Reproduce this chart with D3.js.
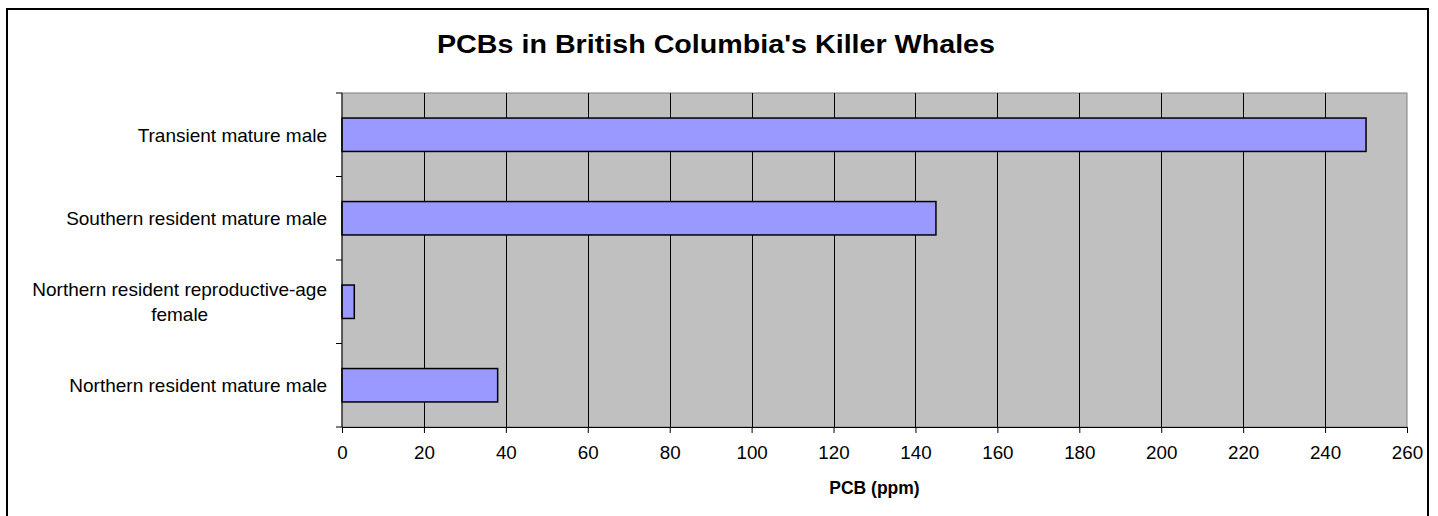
<!DOCTYPE html>
<html>
<head>
<meta charset="utf-8">
<script src="https://cdn.jsdelivr.net/npm/d3@7"></script>
<style>
body { margin:0; background:#fff; }
text { font-family: Arial, "Liberation Sans", sans-serif; fill:#000; }
</style>
</head>
<body>
<svg id="graph1"></svg>
<script>
// whale groups, top to bottom as shown
var categories = ["Transient mature male",
                  "Southern resident mature male",
                  "Northern resident reproductive-age female",
                  "Northern resident mature male"]
var pcbValues = [250, 145, 3, 38]
var xTicks = [0,20,40,60,80,100,120,140,160,180,200,220,240,260]

var data = categories.map(function(c,i){ return {group:c, pcb:pcbValues[i]} })

var initGraph = function(data)
{
    var screen = {width:1438, height:516}
    var margins = {left:342, right:31, top:93, bottom:89}
    var graph =
        {
            width:screen.width-margins.left-margins.right,
            height:screen.height-margins.top-margins.bottom
        }

    var svg = d3.select("#graph1")
        .attr("width", screen.width)
        .attr("height", screen.height)

    // chart frame
    svg.append("rect")
        .attr("x",7).attr("y",9)
        .attr("width",1421).attr("height",520)
        .attr("fill","white")
        .attr("stroke","black")
        .attr("stroke-width",2)

    var target = svg.append("g")
        .attr("transform","translate("+margins.left+","+margins.top+")")

    var xScale = d3.scaleLinear()
        .domain([0,260])
        .range([0,graph.width])

    var yScale = d3.scaleBand()
        .domain(categories)
        .range([0,graph.height])
        .paddingInner(0.6)
        .paddingOuter(0.3)

    // plot area
    target.append("rect")
        .attr("width",graph.width)
        .attr("height",graph.height)
        .attr("fill","#c0c0c0")
        .attr("stroke","#808080")
        .attr("stroke-width",1)

    // gridlines
    target.append("g")
        .selectAll("line")
        .data(xTicks.slice(1,-1))
        .enter()
        .append("line")
        .attr("x1",function(d){ return Math.round(xScale(d))+0.5 })
        .attr("x2",function(d){ return Math.round(xScale(d))+0.5 })
        .attr("y1",0)
        .attr("y2",graph.height)
        .attr("stroke","black")

    drawBars(data,target,xScale,yScale)
    drawAxis(graph,target,xScale,yScale)
    drawLabels(graph,margins,svg,yScale)
}

var drawBars = function(data,target,xScale,yScale)
{
    target.selectAll(".bar")
        .data(data)
        .enter()
        .append("rect")
        .attr("class","bar")
        .attr("x",0)
        .attr("y",function(d){ return yScale(d.group) })
        .attr("width",function(d){ return xScale(d.pcb) })
        .attr("height",yScale.bandwidth())
        .attr("fill","#9999ff")
        .attr("stroke","black")
        .attr("stroke-width",1.5)
}

var drawAxis = function(graph,target,xScale,yScale)
{
    var xAxis = d3.axisBottom(xScale)
        .tickValues(xTicks)
        .tickSize(6)
        .tickPadding(13)

    var gx = target.append("g")
        .attr("transform","translate(0,"+graph.height+")")
        .call(xAxis)
    gx.select(".domain").attr("stroke","black")
    gx.selectAll("text").attr("font-size","18.8px").attr("font-family","Arial, 'Liberation Sans', sans-serif")

    // y ticks sit on the band edges
    var step = graph.height/categories.length
    var edges = d3.range(categories.length+1).map(function(i){ return i*step })
    target.append("g")
        .selectAll("line")
        .data(edges)
        .enter()
        .append("line")
        .attr("x1",-6).attr("x2",0)
        .attr("y1",function(d){ return d })
        .attr("y2",function(d){ return d })
        .attr("stroke","black")
    target.append("line")
        .attr("x1",0).attr("x2",0)
        .attr("y1",0).attr("y2",graph.height)
        .attr("stroke","black")
}

var drawLabels = function(graph,margins,svg,yScale)
{
    var labels = svg.append("g").classed("labels",true)

    labels.append("text")
        .text("PCBs in British Columbia's Killer Whales")
        .attr("text-anchor","middle")
        .attr("font-weight","bold")
        .attr("font-size","25px")
        .attr("textLength",558)
        .attr("lengthAdjust","spacingAndGlyphs")
        .attr("x",716)
        .attr("y",53)

    labels.append("text")
        .text("PCB (ppm)")
        .attr("text-anchor","middle")
        .attr("font-weight","bold")
        .attr("font-size","17.5px")
        .attr("x",margins.left+graph.width/2)
        .attr("y",494)

    // category names, wrapped ones centred as a block
    var rightEdge = 327
    categories.forEach(function(c)
    {
        var lines = c=="Northern resident reproductive-age female" ? ["Northern resident reproductive-age","female"] : [c]
        var cy = margins.top+yScale(c)+yScale.bandwidth()/2
        var t = labels.append("text")
            .attr("font-size","19px")
            .attr("text-anchor","middle")
        lines.forEach(function(l,i)
        {
            t.append("tspan")
                .text(l)
                .attr("y",cy+6.8+(i-(lines.length-1)/2)*25)
        })
        var w = d3.max(t.selectAll("tspan").nodes(),function(n){ return n.getComputedTextLength() })
        t.selectAll("tspan").attr("x",rightEdge-w/2)
    })
}

initGraph(data)
</script>
</body>
</html>
